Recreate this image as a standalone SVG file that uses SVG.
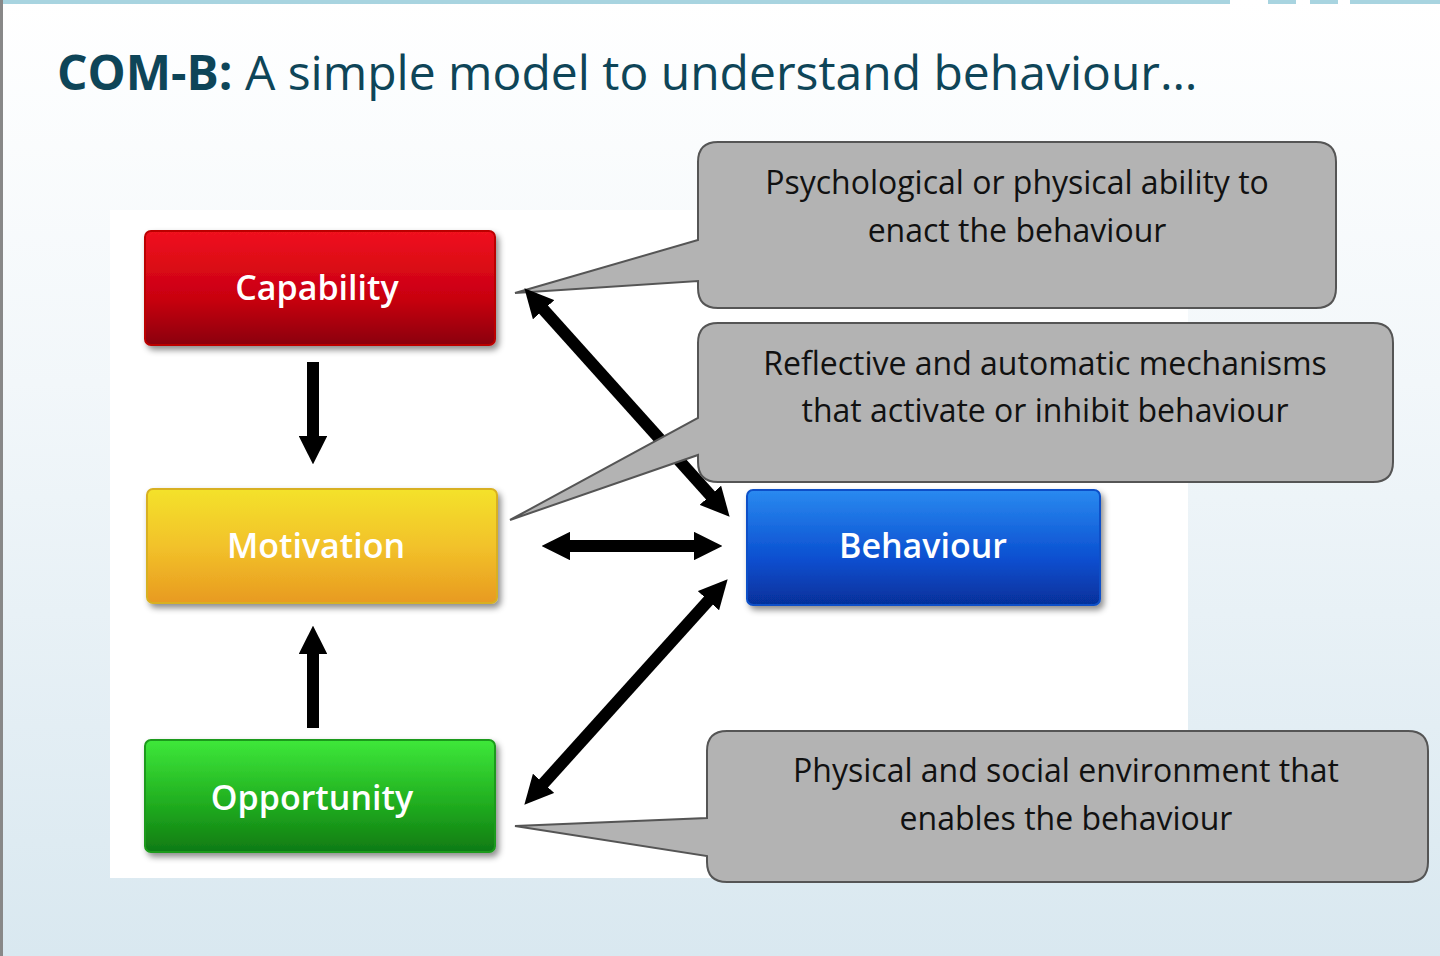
<svg xmlns="http://www.w3.org/2000/svg" width="1440" height="956" viewBox="0 0 1440 956">
<defs>
<linearGradient id="bg" x1="0" y1="0" x2="0" y2="1"><stop offset="0" stop-color="#ffffff"/><stop offset="0.4" stop-color="#f2f7fa"/><stop offset="1" stop-color="#d9e8f0"/></linearGradient>
<linearGradient id="gr" x1="0" y1="0" x2="0" y2="1"><stop offset="0" stop-color="#f0121e"/><stop offset="0.6" stop-color="#c80010"/><stop offset="1" stop-color="#8a0008"/></linearGradient>
<linearGradient id="gy" x1="0" y1="0" x2="0" y2="1"><stop offset="0" stop-color="#f4e22a"/><stop offset="0.5" stop-color="#f2c22a"/><stop offset="1" stop-color="#e89a20"/></linearGradient>
<linearGradient id="gg" x1="0" y1="0" x2="0" y2="1"><stop offset="0" stop-color="#3ee83a"/><stop offset="0.6" stop-color="#1faa1e"/><stop offset="1" stop-color="#0f7a12"/></linearGradient>
<linearGradient id="gb" x1="0" y1="0" x2="0" y2="1"><stop offset="0" stop-color="#2a8af0"/><stop offset="0.6" stop-color="#0a4fd0"/><stop offset="1" stop-color="#06309a"/></linearGradient>
<marker id="ah" viewBox="0 0 10 10" refX="5" refY="5" markerWidth="2.4" markerHeight="2.4" orient="auto-start-reverse" markerUnits="strokeWidth"><path d="M0,0 L10,5 L0,10 Z" fill="#000"/></marker>
<filter id="sh" x="-10%" y="-10%" width="130%" height="140%"><feDropShadow dx="3" dy="4" stdDeviation="3" flood-color="#000" flood-opacity="0.45"/></filter>
</defs>
<style>
.box{stroke-width:2;filter:url(#sh)}
.lbl{font-family:"Open Sans","Liberation Sans",sans-serif;font-size:34px;fill:#fff;text-anchor:middle;font-weight:600}
.co{fill:#b3b3b3;stroke:#555;stroke-width:2}
.ct{font-family:"Open Sans","Liberation Sans",sans-serif;font-size:32px;fill:#111;text-anchor:middle}
.ar{stroke:#000;stroke-width:12;fill:none;marker-end:url(#ah)}
.ar2{stroke:#000;stroke-width:12;fill:none;marker-end:url(#ah);marker-start:url(#ah)}
</style>
<rect width="1440" height="956" fill="url(#bg)"/>
<rect x="0" y="0" width="1230" height="4" fill="#a8d4e0"/>
<rect x="1268" y="0" width="28" height="4" fill="#a8d4e0"/><rect x="1310" y="0" width="28" height="4" fill="#a8d4e0"/><rect x="1350" y="0" width="90" height="4" fill="#a8d4e0"/>
<rect x="0" y="0" width="3" height="956" fill="#888"/>
<text x="57" y="90" font-family="'Open Sans','Liberation Sans',sans-serif" font-size="48" fill="#0e4558"><tspan font-weight="bold">COM-B:</tspan> A simple model to understand behaviour…</text>
<rect x="110" y="210" width="1078" height="668" fill="#fff"/>
<g id="callout1"><path class="co" d="M718,142 H1316 Q1336,142 1336,162 V288 Q1336,308 1316,308 H718 Q698,308 698,288 V281 L515,293 L698,240 V162 Q698,142 718,142 Z"/>
<text class="ct" x="1017" y="194">Psychological or physical ability to</text><text class="ct" x="1017" y="242">enact the behaviour</text></g>
<g id="connectors">
<line class="ar" x1="313" y1="362" x2="313" y2="450"/>
<line class="ar" x1="313" y1="728" x2="313" y2="640"/>
<line class="ar2" x1="556" y1="546" x2="708" y2="546"/>
<line class="ar2" x1="534" y1="299" x2="720" y2="506"/>
<line class="ar2" x1="534" y1="794" x2="718" y2="590"/>
</g>
<g id="callout2"><path class="co" d="M718,323 H1373 Q1393,323 1393,343 V462 Q1393,482 1373,482 H718 Q698,482 698,462 V455 L510,520 L698,418 V343 Q698,323 718,323 Z"/>
<text class="ct" x="1045" y="375">Reflective and automatic mechanisms</text><text class="ct" x="1045" y="422">that activate or inhibit behaviour</text></g>
<g id="callout3"><path class="co" d="M727,731 H1408 Q1428,731 1428,751 V862 Q1428,882 1408,882 H727 Q707,882 707,862 V856 L515,826 L707,818 V751 Q707,731 727,731 Z"/>
<text class="ct" x="1066" y="782">Physical and social environment that</text><text class="ct" x="1066" y="830">enables the behaviour</text></g>
<g id="capability"><rect class="box" x="145" y="231" width="350" height="114" rx="6" fill="url(#gr)" stroke="#b00"/><text class="lbl" x="317" y="300">Capability</text></g>
<g id="motivation"><rect class="box" x="147" y="489" width="350" height="114" rx="6" fill="url(#gy)" stroke="#d8b020"/><text class="lbl" x="316" y="558">Motivation</text></g>
<g id="opportunity"><rect class="box" x="145" y="740" width="350" height="112" rx="6" fill="url(#gg)" stroke="#1a9a1a"/><text class="lbl" x="312" y="810">Opportunity</text></g>
<g id="behaviour"><rect class="box" x="747" y="490" width="353" height="115" rx="6" fill="url(#gb)" stroke="#0a50c8"/><text class="lbl" x="923" y="558">Behaviour</text></g>
</svg>
